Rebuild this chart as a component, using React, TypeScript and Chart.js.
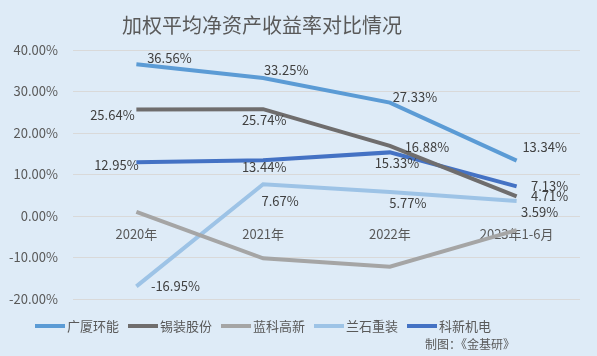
import React, { useEffect, useRef } from 'react';
import { Chart, registerables } from 'chart.js';

Chart.register(...registerables);

const categories = ['2020年', '2021年', '2022年', '2023年1-6月'];
const seriesNames = ['广厦环能', '锡装股份', '蓝科高新', '兰石重装', '科新机电'];
const guangsha = [36.56, 33.25, 27.33, 13.34];
const xizhuang = [25.64, 25.74, 16.88, 4.71];
const lanke = [1.0, -10.2, -12.2, -3.4];
const lanshi = [-16.95, 7.67, 5.77, 3.59];
const kexin = [12.95, 13.44, 15.33, 7.13];
const yMin = -20;
const yMax = 40;
const yStep = 10;
const titleText = '加权平均净资产收益率对比情况';
const footerText = '制图：《金基研》';

const colors = ['#5B9BD5', '#6F6D6D', '#A5A5A5', '#9DC3E6', '#4472C4'];
const showLabels = [true, true, false, true, true];
// label center offsets from the point (style only)
const labelOffsets: number[][][] = [
  [[33, -6], [23, -8], [25, -6], [28, -14]],
  [[-24, 5], [1, 11], [37, 1], [33, 0]],
  [],
  [[39, 0], [17, 17], [18, 11], [23, 11]],
  [[-20, 3], [1, 7], [7, 11], [33, 0]],
];

const FONT = '"Noto Sans CJK SC", "Noto Sans", sans-serif';
const BG = '#DEEBF7';

const decorPlugin = {
  id: 'decor',
  beforeDraw(chart: any) {
    const { ctx, width, height } = chart;
    ctx.save();
    ctx.fillStyle = BG;
    ctx.fillRect(0, 0, width, height);
    ctx.restore();
  },
  afterDatasetsDraw(chart: any) {
    const { ctx } = chart;
    ctx.save();
    // data labels
    ctx.font = `13px ${FONT}`;
    ctx.fillStyle = '#404040';
    ctx.textAlign = 'center';
    ctx.textBaseline = 'middle';
    chart.data.datasets.forEach((ds: any, i: number) => {
      if (!showLabels[i]) return;
      const meta = chart.getDatasetMeta(i);
      meta.data.forEach((pt: any, j: number) => {
        const off = labelOffsets[i][j] || [0, 0];
        const v = ds.data[j] as number;
        ctx.fillText(v.toFixed(2) + '%', pt.x + off[0], pt.y + off[1]);
      });
    });
    // title
    ctx.font = `20px ${FONT}`;
    ctx.fillStyle = '#595959';
    ctx.fillText(titleText, 262, 25);
    // legend
    ctx.font = `13px ${FONT}`;
    ctx.textAlign = 'left';
    let x = 35;
    const y = 326;
    seriesNames.forEach((name, i) => {
      ctx.strokeStyle = colors[i];
      ctx.lineWidth = 4;
      ctx.lineCap = 'butt';
      ctx.beginPath();
      ctx.moveTo(x, y);
      ctx.lineTo(x + 30, y);
      ctx.stroke();
      ctx.fillStyle = '#595959';
      ctx.fillText(name, x + 32, y);
      x += 32 + ctx.measureText(name).width + 9;
    });
    // footer
    ctx.font = `12px ${FONT}`;
    ctx.textAlign = 'right';
    ctx.fillText(footerText, 515, 344);
    ctx.restore();
  },
};

export default function App() {
  const ref = useRef<HTMLCanvasElement | null>(null);
  useEffect(() => {
    document.body.style.margin = '0';
    document.body.style.background = BG;
    const canvas = ref.current!;
    const data = [guangsha, xizhuang, lanke, lanshi, kexin];
    const chart = new Chart(canvas, {
      type: 'line',
      data: {
        labels: categories,
        datasets: seriesNames.map((name, i) => ({
          label: name,
          data: data[i],
          borderColor: colors[i],
          backgroundColor: colors[i],
          borderWidth: 4,
          pointRadius: 0,
          tension: 0,
          fill: false,
        })),
      },
      options: {
        animation: false,
        responsive: false,
        layout: { padding: { top: 50, bottom: 57, right: 17, left: 0 } },
        plugins: {
          legend: { display: false },
          title: { display: false },
          tooltip: { enabled: false },
        },
        scales: {
          x: {
            position: { y: 0 } as any,
            offset: true,
            grid: { display: false, drawTicks: false },
            border: { display: false },
            ticks: {
              font: { family: FONT, size: 13 },
              color: '#595959',
              padding: 10,
              maxRotation: 0,
              autoSkip: false,
            },
          },
          y: {
            min: yMin,
            max: yMax,
            afterFit(scale: any) {
              scale.width = 73;
            },
            ticks: {
              stepSize: yStep,
              font: { family: FONT, size: 13 },
              color: '#595959',
              padding: 15,
              callback: (v: any) => Number(v).toFixed(2) + '%',
            },
            grid: { color: '#D9D9D9', lineWidth: 1, drawTicks: false },
            border: { display: false },
          },
        },
      },
      plugins: [decorPlugin],
    });
    return () => chart.destroy();
  }, []);
  return (
    <div style={{ width: 597, height: 356 }}>
      <canvas ref={ref} width={597} height={356} style={{ display: 'block' }} />
    </div>
  );
}
